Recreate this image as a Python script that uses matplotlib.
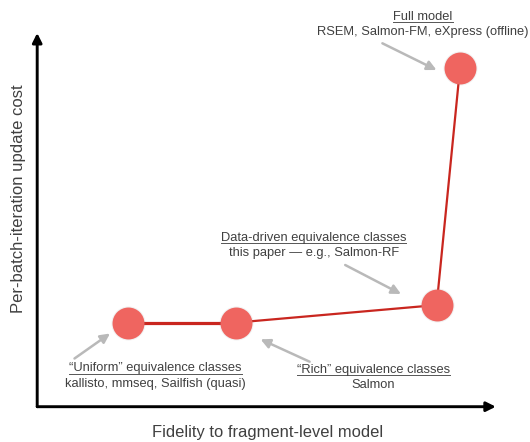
import matplotlib
matplotlib.use('Agg')
import matplotlib.pyplot as plt
from matplotlib.lines import Line2D

plt.rcParams['font.family'] = ['Liberation Sans', 'DejaVu Sans']

# ── data (fidelity vs. cost, arbitrary units 0..10) ──
methods = ['Uniform', 'Rich', 'Data-driven', 'Full']
fidelity = [1.99, 4.33, 8.71, 9.22]
cost = [2.25, 2.25, 2.72, 9.07]
seg_widths = [2.3, 1.6, 1.6]

titles = ['\u201cUniform\u201d equivalence classes',
          '\u201cRich\u201d equivalence classes',
          'Data-driven equivalence classes',
          'Full model']
subtitles = ['kallisto, mmseq, Sailfish (quasi)',
             'Salmon',
             'this paper \u2014 e.g., Salmon-RF',
             'RSEM, Salmon-FM, eXpress (offline)']

LINE = '#c9261f'
DOT = '#ef6560'
TXT = '#404040'
ARR = '#b9b9b9'

W, H = 530, 442
fig = plt.figure(figsize=(W / 100, H / 100), dpi=100)
fig.patch.set_facecolor('white')

def px(x, y):
    return (x / W, 1 - y / H)

# axes: corner at (37, 407) px, spans to (496, 33)
x0, y0, x1, y1 = 37.2, 406.7, 495.8, 33.0
ax = fig.add_axes([x0 / W, 1 - y0 / H, (x1 - x0) / W, (y0 - y1) / H])
ax.set_xlim(0, 10)
ax.set_ylim(0, 10)
ax.axis('off')

# axis arrows
for end in [(1, 0), (0, 1)]:
    ax.annotate('', xy=end, xytext=(0, 0), xycoords='axes fraction',
                arrowprops=dict(arrowstyle='-|>', color='black', lw=2.1,
                                mutation_scale=14, shrinkA=0, shrinkB=0))

# curve segments
for i in range(len(fidelity) - 1):
    ax.plot(fidelity[i:i + 2], cost[i:i + 2], color=LINE, lw=seg_widths[i],
            solid_capstyle='butt', zorder=2)

# soft shadow + dots
ax.plot(fidelity, cost, 'o', ms=24.5, color='#888888', alpha=0.12,
        markeredgewidth=0, zorder=3)
ax.plot(fidelity, cost, 'o', ms=23, color=DOT, markeredgewidth=0, zorder=4)

# labels: (center x, title y, sub y) in pixels
label_pos = [(155.7, 368.5, 384.5),
             (373.3, 369.5, 385.5),
             (313.7, 237.5, 253.0),
             (423.0, 16.5, 32.5)]
# arrows: (tail, head) in pixels
arrow_pos = [((74.5, 358.5), (110.0, 333.5)),
             ((309.6, 361.7), (260.6, 339.3)),
             ((345.2, 265.0), (401.0, 294.0)),
             ((382.4, 43.3), (436.5, 70.0))]

title_texts = []
for (cx, ty, sy), t, s in zip(label_pos, titles, subtitles):
    tt = fig.text(*px(cx, ty), t, ha='center', va='center', fontsize=9.3, color=TXT)
    fig.text(*px(cx, sy), s, ha='center', va='center', fontsize=9.3, color=TXT)
    title_texts.append(tt)

for tail, head in arrow_pos:
    fig.add_artist(matplotlib.patches.FancyArrowPatch(
        px(*tail), px(*head), transform=fig.transFigure,
        arrowstyle='-|>', mutation_scale=14, color=ARR, lw=1.8,
        shrinkA=0, shrinkB=0))

# underline titles
fig.canvas.draw()
r = fig.canvas.get_renderer()
for tt in title_texts:
    bb = tt.get_window_extent(r).transformed(fig.transFigure.inverted())
    yl = bb.y0 + 0.4 / H
    fig.add_artist(Line2D([bb.x0, bb.x1], [yl, yl], color='#555555', lw=0.7,
                          transform=fig.transFigure))

fig.text(*px(267.3, 432.0), 'Fidelity to fragment-level model', ha='center',
         va='center', fontsize=11.9, color=TXT)
fig.text(*px(18.6, 198.5), 'Per-batch-iteration update cost', ha='center',
         va='center', rotation=90, fontsize=12.0, color=TXT)

fig.savefig('out.png', dpi=100, facecolor='white')
plt.close(fig)
